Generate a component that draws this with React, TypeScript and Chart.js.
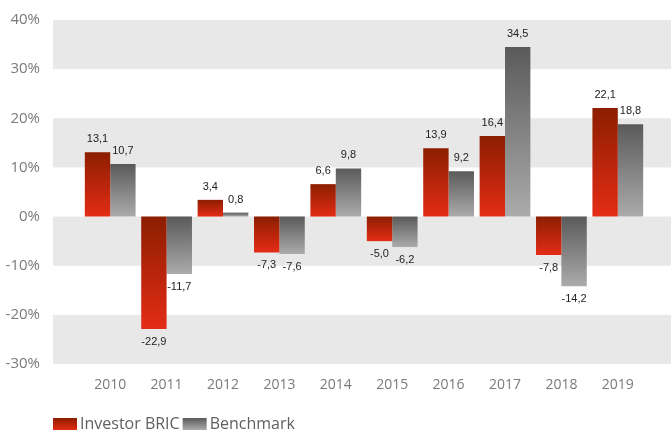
import React, { useEffect, useRef } from "react";
import { Chart, registerables } from "chart.js";

Chart.register(...registerables);

const years = ["2010", "2011", "2012", "2013", "2014", "2015", "2016", "2017", "2018", "2019"];
const investorBric = [13.1, -22.9, 3.4, -7.3, 6.6, -5.0, 13.9, 16.4, -7.8, 22.1];
const benchmark = [10.7, -11.7, 0.8, -7.6, 9.8, -6.2, 9.2, 34.5, -14.2, 18.8];
const seriesNames = ["Investor BRIC", "Benchmark"];
const bandRanges: [number, number][] = [[30, 40], [10, 20], [-10, 0], [-30, -20]];

const redStops = ["#8c1e00", "#e42c16"];
const greyStops = ["#5a5a5a", "#ababab"];

function barGradient(ctx: any, stops: string[]) {
  const chart = ctx.chart;
  const y = chart.scales && chart.scales.y;
  const v = ctx.raw;
  if (!y || !chart.chartArea || typeof v !== "number") return stops[1];
  const p0 = y.getPixelForValue(0);
  const p1 = y.getPixelForValue(v);
  const top = Math.min(p0, p1);
  const bottom = Math.max(p0, p1);
  const g = chart.ctx.createLinearGradient(0, top, 0, bottom + 0.01);
  g.addColorStop(0, stops[0]);
  g.addColorStop(1, stops[1]);
  return g;
}

const bandsPlugin = {
  id: "bands",
  beforeDraw(chart: any) {
    const { ctx, scales } = chart;
    const y = scales.y;
    ctx.save();
    ctx.fillStyle = "#e8e8e8";
    for (const [a, b] of bandRanges) {
      const t = y.getPixelForValue(b);
      const bt = y.getPixelForValue(a);
      ctx.fillRect(53, t, chart.width - 53, bt - t);
    }
    ctx.restore();
  },
};

const labelsPlugin = {
  id: "valueLabels",
  afterDatasetsDraw(chart: any) {
    const { ctx } = chart;
    ctx.save();
    ctx.font = "11px 'Liberation Sans', Arial, sans-serif";
    ctx.fillStyle = "#222";
    ctx.textAlign = "center";
    ctx.textBaseline = "middle";
    chart.data.datasets.forEach((ds: any, i: number) => {
      const meta = chart.getDatasetMeta(i);
      meta.data.forEach((el: any, j: number) => {
        const v = ds.data[j];
        const txt = v.toFixed(1).replace(".", ",");
        const yy = v >= 0 ? el.y - 13 : el.y + 13;
        ctx.fillText(txt, el.x, yy);
      });
    });
    ctx.restore();
  },
};

const legendPlugin = {
  id: "customLegend",
  afterDraw(chart: any) {
    const { ctx } = chart;
    ctx.save();
    ctx.font = "16px 'Open Sans', Lato, sans-serif";
    ctx.textBaseline = "alphabetic";
    ctx.textAlign = "left";
    let x = 53;
    const boxTop = 418;
    const boxH = 12;
    const stopsList = [redStops, greyStops];
    seriesNames.forEach((name, i) => {
      const g = ctx.createLinearGradient(0, boxTop, 0, boxTop + boxH);
      g.addColorStop(0, stopsList[i][0]);
      g.addColorStop(1, stopsList[i][1]);
      ctx.fillStyle = g;
      ctx.fillRect(x, boxTop, 24, boxH);
      x += 27;
      ctx.fillStyle = "#606060";
      ctx.fillText(name, x, 429);
      x += ctx.measureText(name).width + 3;
    });
    ctx.restore();
  },
};

export default function App() {
  const ref = useRef<HTMLCanvasElement | null>(null);

  useEffect(() => {
    document.body.style.margin = "0";
    const canvas = ref.current;
    if (!canvas) return;
    const chart = new Chart(canvas, {
      type: "bar",
      data: {
        labels: years,
        datasets: [
          {
            label: seriesNames[0],
            data: investorBric,
            backgroundColor: (c: any) => barGradient(c, redStops),
            borderWidth: 0,
          },
          {
            label: seriesNames[1],
            data: benchmark,
            backgroundColor: (c: any) => barGradient(c, greyStops),
            borderWidth: 0,
          },
        ],
      },
      options: {
        animation: false,
        responsive: false,
        maintainAspectRatio: false,
        layout: { padding: { top: 20, right: 25, bottom: 0, left: 0 } },
        plugins: {
          legend: { display: false },
          tooltip: { enabled: false },
        },
        datasets: {
          bar: { barPercentage: 1, categoryPercentage: 0.9 },
        },
        scales: {
          x: {
            grid: { display: false, drawTicks: false },
            border: { display: false },
            ticks: {
              color: "#7a7a7a",
              font: { family: "'Open Sans', Lato, sans-serif", size: 14 },
              padding: 13,
              maxRotation: 0,
            },
            afterFit(scale: any) {
              scale.height = 66;
            },
          },
          y: {
            min: -30,
            max: 40,
            grid: { display: false, drawTicks: false },
            border: { display: false },
            ticks: {
              stepSize: 10,
              color: "#7a7a7a",
              font: { family: "'Open Sans', Lato, sans-serif", size: 15 },
              padding: 42,
              callback: (v: any) => `${v}%`,
            },
            afterFit(scale: any) {
              scale.width = 82;
              scale.paddingTop = 8;
              scale.paddingBottom = 8;
            },
          },
        },
      },
      plugins: [bandsPlugin, labelsPlugin, legendPlugin],
    });
    return () => chart.destroy();
  }, []);

  return (
    <div style={{ width: 671, height: 430 }}>
      <canvas ref={ref} width={671} height={430} style={{ display: "block" }} />
    </div>
  );
}
